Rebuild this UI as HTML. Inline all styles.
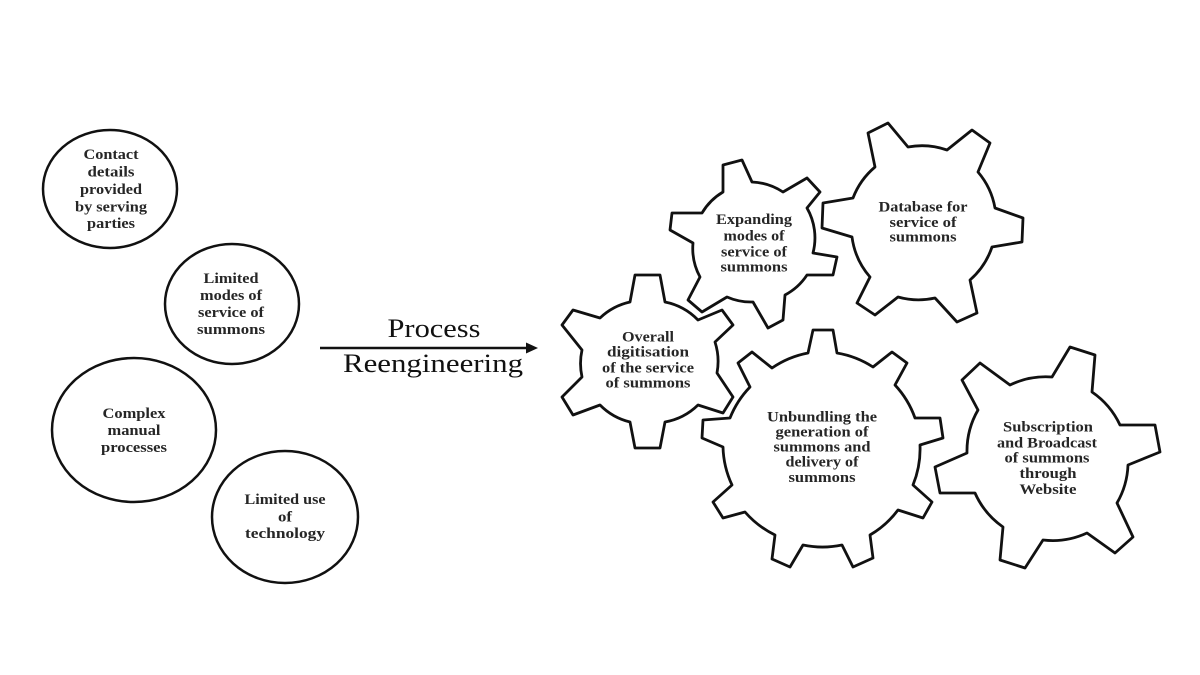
<!DOCTYPE html>
<html>
<head>
<meta charset="utf-8">
<style>
  html, body { margin: 0; padding: 0; background: #ffffff; }
  body { width: 1200px; height: 675px; overflow: hidden; }
  svg { display: block; }
  .lbl { font-family: "Liberation Serif", serif; font-weight: bold; font-size: 15px; fill: #262626; }
  .big { font-family: "Liberation Serif", serif; font-weight: normal; font-size: 26px; fill: #111; }
  .shape { fill: #ffffff; stroke: #111; stroke-width: 2.8; stroke-linejoin: round; }
  .circ { fill: #ffffff; stroke: #111; stroke-width: 2.5; }
</style>
</head>
<body>
<svg width="1200" height="675" viewBox="0 0 1200 675" xmlns="http://www.w3.org/2000/svg">
  <rect x="0" y="0" width="1200" height="675" fill="#ffffff"/>

  <!-- Left circles -->
  <ellipse class="circ" cx="110" cy="189" rx="67" ry="59"/>
  <ellipse class="circ" cx="232" cy="304" rx="67" ry="60"/>
  <ellipse class="circ" cx="134" cy="430" rx="82" ry="72"/>
  <ellipse class="circ" cx="285" cy="517" rx="73" ry="66"/>

  <g text-anchor="middle" class="lbl">
    <text x="111" y="159" textLength="55" lengthAdjust="spacingAndGlyphs">Contact</text>
    <text x="111" y="176.5" textLength="47" lengthAdjust="spacingAndGlyphs">details</text>
    <text x="111" y="194" textLength="62" lengthAdjust="spacingAndGlyphs">provided</text>
    <text x="111" y="211.5" textLength="72" lengthAdjust="spacingAndGlyphs">by serving</text>
    <text x="111" y="228" textLength="48" lengthAdjust="spacingAndGlyphs">parties</text>

    <text x="231" y="283" textLength="55" lengthAdjust="spacingAndGlyphs">Limited</text>
    <text x="231" y="300" textLength="62" lengthAdjust="spacingAndGlyphs">modes of</text>
    <text x="231" y="317" textLength="66" lengthAdjust="spacingAndGlyphs">service of</text>
    <text x="231" y="334" textLength="68" lengthAdjust="spacingAndGlyphs">summons</text>

    <text x="134" y="418" textLength="63" lengthAdjust="spacingAndGlyphs">Complex</text>
    <text x="134" y="435" textLength="53" lengthAdjust="spacingAndGlyphs">manual</text>
    <text x="134" y="452" textLength="66" lengthAdjust="spacingAndGlyphs">processes</text>

    <text x="285" y="504" textLength="81" lengthAdjust="spacingAndGlyphs">Limited use</text>
    <text x="285" y="521.5" textLength="14" lengthAdjust="spacingAndGlyphs">of</text>
    <text x="285" y="538" textLength="80" lengthAdjust="spacingAndGlyphs">technology</text>
  </g>

  <!-- Arrow -->
  <line x1="320" y1="348" x2="528" y2="348" stroke="#111" stroke-width="2.4"/>
  <polygon points="538,348 526,342.5 526,353.5" fill="#111"/>
  <g text-anchor="middle" class="big">
    <text x="434" y="337" textLength="93" lengthAdjust="spacingAndGlyphs">Process</text>
    <text x="433" y="372" textLength="180" lengthAdjust="spacingAndGlyphs">Reengineering</text>
  </g>

  <!-- Gear B: Expanding modes -->
  <path class="shape" d="M723,192 L723,165 L742,160 L752,182 A60,60 0 0 1 783,192 L807,178 L820,192 L807,208 A60,60 0 0 1 813,253 L837,257 L833,275 L807,275 A60,60 0 0 1 785,295 L783,320 L768,328 L753,302 A60,60 0 0 1 727,297 L702,312 L688,300 L700,277 A60,60 0 0 1 693,243 L670,230 L672,213 L702,213 A60,60 0 0 1 723,192 Z"/>

  <!-- Gear C: Database -->
  <path class="shape" d="M868,133 L888,123 L908,147 A76,76 0 0 1 947,150 L972,130 L990,143 L978,172 A76,76 0 0 1 995,208 L1023,218 L1022,242 L992,247 A76,76 0 0 1 970,280 L977,313 L957,322 L935,298 A76,76 0 0 1 898,297 L875,315 L857,303 L870,277 A76,76 0 0 1 852,237 L822,228 L823,203 L853,198 A76,76 0 0 1 875,167 Z"/>

  <!-- Gear A: Overall digitisation -->
  <path class="shape" d="M630,302 L635,275 L660,275 L665,302 A63,63 0 0 1 698,320 L722,310 L733,325 L715,342 A63,63 0 0 1 717,373 L733,397 L723,413 L698,405 A63,63 0 0 1 665,422 L660,448 L635,448 L630,422 A63,63 0 0 1 600,405 L573,415 L562,397 L582,377 A63,63 0 0 1 582,350 L562,325 L573,310 L600,318 A63,63 0 0 1 630,302 Z"/>

  <!-- Gear D: Unbundling -->
  <path class="shape" d="M808,353 L813,330 L833,330 L837,353 A95,95 0 0 1 873,367 L892,352 L907,363 L895,385 A95,95 0 0 1 915,418 L940,418 L943,438 L920,445 A95,95 0 0 1 913,485 L932,502 L923,518 L898,510 A95,95 0 0 1 870,535 L873,558 L853,567 L842,545 A95,95 0 0 1 803,545 L790,567 L772,559 L775,535 A95,95 0 0 1 745,512 L723,518 L713,502 L732,485 A95,95 0 0 1 723,447 L702,438 L703,420 L730,418 A95,95 0 0 1 750,387 L738,363 L752,352 L772,368 A95,95 0 0 1 808,353 Z"/>

  <!-- Gear E: Subscription -->
  <path class="shape" d="M1052,377 L1070,347 L1095,355 L1092,392 A82,82 0 0 1 1120,425 L1155,425 L1160,452 L1128,465 A82,82 0 0 1 1117,503 L1133,537 L1115,553 L1087,533 A82,82 0 0 1 1043,540 L1025,568 L1000,560 L1003,527 A82,82 0 0 1 975,493 L940,493 L935,467 L967,453 A82,82 0 0 1 978,410 L962,380 L980,363 L1010,385 A82,82 0 0 1 1052,377 Z"/>

  <!-- Gear labels -->
  <g text-anchor="middle" class="lbl">
    <text x="754" y="224" textLength="76" lengthAdjust="spacingAndGlyphs">Expanding</text>
    <text x="754" y="240.5" textLength="61" lengthAdjust="spacingAndGlyphs">modes of</text>
    <text x="754" y="256.5" textLength="66" lengthAdjust="spacingAndGlyphs">service of</text>
    <text x="754" y="271.5" textLength="67" lengthAdjust="spacingAndGlyphs">summons</text>

    <text x="923" y="211.5" textLength="89" lengthAdjust="spacingAndGlyphs">Database for</text>
    <text x="923" y="227" textLength="67" lengthAdjust="spacingAndGlyphs">service of</text>
    <text x="923" y="241.5" textLength="67" lengthAdjust="spacingAndGlyphs">summons</text>

    <text x="648" y="341.5" textLength="52" lengthAdjust="spacingAndGlyphs">Overall</text>
    <text x="648" y="356.5" textLength="82" lengthAdjust="spacingAndGlyphs">digitisation</text>
    <text x="648" y="372.5" textLength="92" lengthAdjust="spacingAndGlyphs">of the service</text>
    <text x="648" y="387.5" textLength="85" lengthAdjust="spacingAndGlyphs">of summons</text>

    <text x="822" y="421.5" textLength="110" lengthAdjust="spacingAndGlyphs">Unbundling the</text>
    <text x="822" y="436.5" textLength="93" lengthAdjust="spacingAndGlyphs">generation of</text>
    <text x="822" y="451.5" textLength="97" lengthAdjust="spacingAndGlyphs">summons and</text>
    <text x="822" y="466.5" textLength="73" lengthAdjust="spacingAndGlyphs">delivery of</text>
    <text x="822" y="482" textLength="67" lengthAdjust="spacingAndGlyphs">summons</text>

    <text x="1048" y="431.5" textLength="90" lengthAdjust="spacingAndGlyphs">Subscription</text>
    <text x="1047" y="447.5" textLength="100" lengthAdjust="spacingAndGlyphs">and Broadcast</text>
    <text x="1047" y="462.5" textLength="85" lengthAdjust="spacingAndGlyphs">of summons</text>
    <text x="1048" y="478" textLength="57" lengthAdjust="spacingAndGlyphs">through</text>
    <text x="1048" y="494" textLength="57" lengthAdjust="spacingAndGlyphs">Website</text>
  </g>
</svg>
</body>
</html>
